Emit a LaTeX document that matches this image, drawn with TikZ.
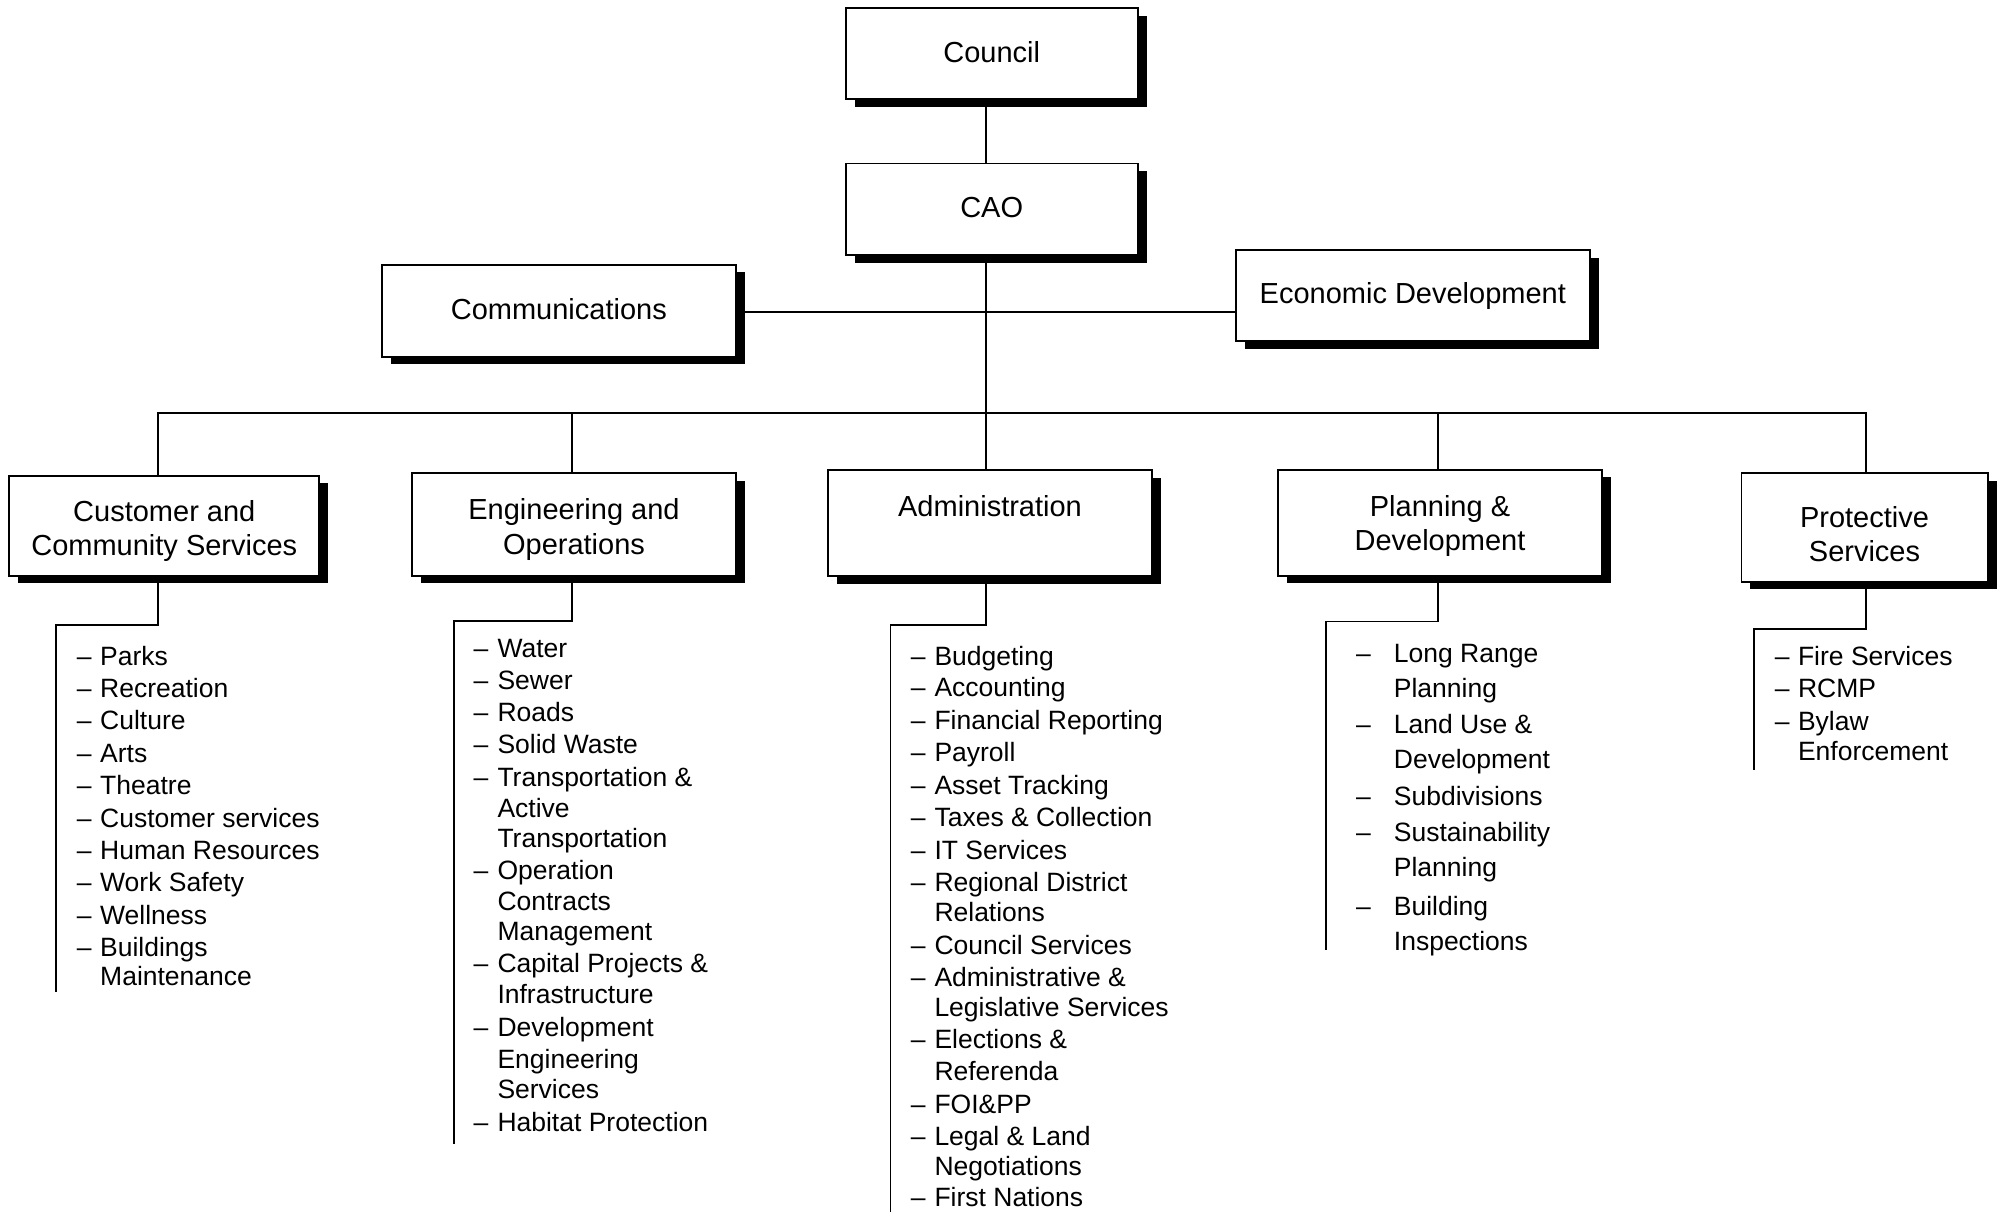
\documentclass[tikz,border=0pt]{standalone}
\usepackage{fontspec}
\setmainfont{Liberation Sans}
\usetikzlibrary{shadows}
\tikzset{
  box/.style={draw, line width=1.7pt, fill=white, inner sep=0pt, align=center,
    font=\fontsize{29}{34.5}\selectfont,
    drop shadow={shadow xshift=9pt, shadow yshift=-7.5pt, opacity=1, fill=black}},
  conn/.style={line width=1.8pt},
  itm/.style={anchor=base west, inner sep=0pt, font=\fontsize{26.5}{30}\selectfont},
}
\newcommand\litem[5]{\node[itm] (#1d) at (#2,#4) {–}; \node[itm] (#1) at (#3,#4) {#5};}
\newcommand\lcont[4]{\node[itm] (#1) at (#2,#3) {#4};}
\newcommand\up{\rule[-4pt]{0pt}{21pt}}
\newcommand\dn[1]{\rule{0pt}{#1}}
\begin{document}
\begin{tikzpicture}[x=1pt,y=-1pt]
\useasboundingbox[fill=white] (0,0) rectangle (2001,1212);
% boxes
\node[box, minimum width=292pt, minimum height=91pt] (council) at (991.7,53.8) {\up Council};
\node[box, minimum width=292pt, minimum height=91.7pt] (cao) at (991.7,209.2) {\up CAO};
\node[box, minimum width=354.3pt, minimum height=91.7pt] (comm) at (558.8,310.8) {\up Communications};
\node[box, minimum width=354.3pt, minimum height=91pt] (econ) at (1412.8,295.5) {Economic Development};
\node[box, minimum width=310pt, minimum height=99.7pt] (cust) at (164.3,525.8) {\dn{31pt}Customer and\\Community Services};
\node[box, minimum width=323.4pt, minimum height=102.4pt] (eng) at (574,524.5) {\dn{31pt}Engineering and\\Operations};
\node[box, minimum width=324.6pt, minimum height=106pt] (admin) at (990,523) {\dn{31pt}Administration\\ \strut};
\node[box, minimum width=324.2pt, minimum height=105.7pt] (plan) at (1440,522.8) {\dn{27pt}Planning \&\\Development};
\node[box, minimum width=246.3pt, minimum height=108.4pt] (prot) at (1864.5,527.5) {\dn{34pt}Protective\\Services};
% reference coordinates
\coordinate (mx) at (986,0);
\coordinate (hy) at (0,311.7);
\coordinate (bus) at (0,412.7);
\coordinate (cx) at (157.7,0);
\coordinate (ex) at (572.3,0);
\coordinate (plx) at (1437.9,0);
\coordinate (px) at (1866,0);
% connectors
\draw[conn] (council.south -| mx) -- (cao.north -| mx);
\draw[conn] (cao.south -| mx) -- (admin.north -| mx);
\draw[conn] (comm.east |- hy) -- (econ.west |- hy);
\draw[conn] (cust.north -| cx) -- (bus -| cx) -- (bus -| px) -- (prot.north -| px);
\draw[conn] (eng.north -| ex) -- (bus -| ex);
\draw[conn] (plan.north -| plx) -- (bus -| plx);
% legs
\coordinate (custend) at (56,992.3);
\coordinate (engend) at (454.3,1144);
\coordinate (adminend) at (890.5,1212);
\coordinate (planend) at (1325.6,950);
\coordinate (protend) at (1754.3,769.5);
\draw[conn] (cust.south -| cx) -- ++(0,48.6) -| (custend);
\draw[conn] (eng.south -| ex) -- ++(0,44.3) -| (engend);
\draw[conn] (admin.south -| mx) -- ++(0,48.3) -| (adminend);
\draw[conn] (plan.south -| plx) -- ++(0,45) -| (planend);
\draw[conn] (prot.south -| px) -- ++(0,46.6) -| (protend);
% Customer list
\litem{c1}{76.7}{100}{665}{Parks}
\litem{c2}{76.7}{100}{697.4}{Recreation}
\litem{c3}{76.7}{100}{729.8}{Culture}
\litem{c4}{76.7}{100}{762.2}{Arts}
\litem{c5}{76.7}{100}{794.6}{Theatre}
\litem{c6}{76.7}{100}{827}{Customer services}
\litem{c7}{76.7}{100}{859.4}{Human Resources}
\litem{c8}{76.7}{100}{891.8}{Work Safety}
\litem{c9}{76.7}{100}{924.2}{Wellness}
\litem{c10}{76.7}{100}{956.6}{Buildings}
\lcont{c10b}{100}{985.7}{Maintenance}
% Engineering list
\litem{e1}{473.3}{497.3}{657.5}{Water}
\litem{e2}{473.3}{497.3}{689}{Sewer}
\litem{e3}{473.3}{497.3}{721.3}{Roads}
\litem{e4}{473.3}{497.3}{753.8}{Solid Waste}
\litem{e5}{473.3}{497.3}{786.3}{Transportation \&}
\lcont{e5b}{497.3}{817}{Active}
\lcont{e5c}{497.3}{847.6}{Transportation}
\litem{e6}{473.3}{497.3}{879.5}{Operation}
\lcont{e6b}{497.3}{910.2}{Contracts}
\lcont{e6c}{497.3}{940.8}{Management}
\litem{e7}{473.3}{497.3}{972.7}{Capital Projects \&}
\lcont{e7b}{497.3}{1003.3}{Infrastructure}
\litem{e8}{473.3}{497.3}{1036.7}{Development}
\lcont{e8b}{497.3}{1068.3}{Engineering}
\lcont{e8c}{497.3}{1098.3}{Services}
\litem{e9}{473.3}{497.3}{1131}{Habitat Protection}
% Administration list
\litem{a1}{910.7}{934.3}{665}{Budgeting}
\litem{a2}{910.7}{934.3}{696.7}{Accounting}
\litem{a3}{910.7}{934.3}{729.3}{Financial Reporting}
\litem{a4}{910.7}{934.3}{761.8}{Payroll}
\litem{a5}{910.7}{934.3}{794.2}{Asset Tracking}
\litem{a6}{910.7}{934.3}{826.6}{Taxes \& Collection}
\litem{a7}{910.7}{934.3}{859.1}{IT Services}
\litem{a8}{910.7}{934.3}{891.7}{Regional District}
\lcont{a8b}{934.3}{921.7}{Relations}
\litem{a9}{910.7}{934.3}{954}{Council Services}
\litem{a10}{910.7}{934.3}{986.7}{Administrative \&}
\lcont{a10b}{934.3}{1016.7}{Legislative Services}
\litem{a11}{910.7}{934.3}{1048.3}{Elections \&}
\lcont{a11b}{934.3}{1080}{Referenda}
\litem{a12}{910.7}{934.3}{1113.3}{FOI\&PP}
\litem{a13}{910.7}{934.3}{1145}{Legal \& Land}
\lcont{a13b}{934.3}{1175.7}{Negotiations}
\litem{a14}{910.7}{934.3}{1206.7}{First Nations}
% Planning list
\litem{p1}{1355.8}{1393.7}{662.5}{Long Range}
\lcont{p1b}{1393.7}{697.3}{Planning}
\litem{p2}{1355.8}{1393.7}{733.8}{Land Use \&}
\lcont{p2b}{1393.7}{768.6}{Development}
\litem{p3}{1355.8}{1393.7}{805.2}{Subdivisions}
\litem{p4}{1355.8}{1393.7}{841.9}{Sustainability}
\lcont{p4b}{1393.7}{876.8}{Planning}
\litem{p5}{1355.8}{1393.7}{915}{Building}
\lcont{p5b}{1393.7}{950}{Inspections}
% Protective list
\litem{r1}{1774.6}{1797.8}{665.5}{Fire Services}
\litem{r2}{1774.6}{1797.8}{697.5}{RCMP}
\litem{r3}{1774.6}{1797.8}{730}{Bylaw}
\lcont{r3b}{1797.8}{760.5}{Enforcement}
\end{tikzpicture}
\end{document}
